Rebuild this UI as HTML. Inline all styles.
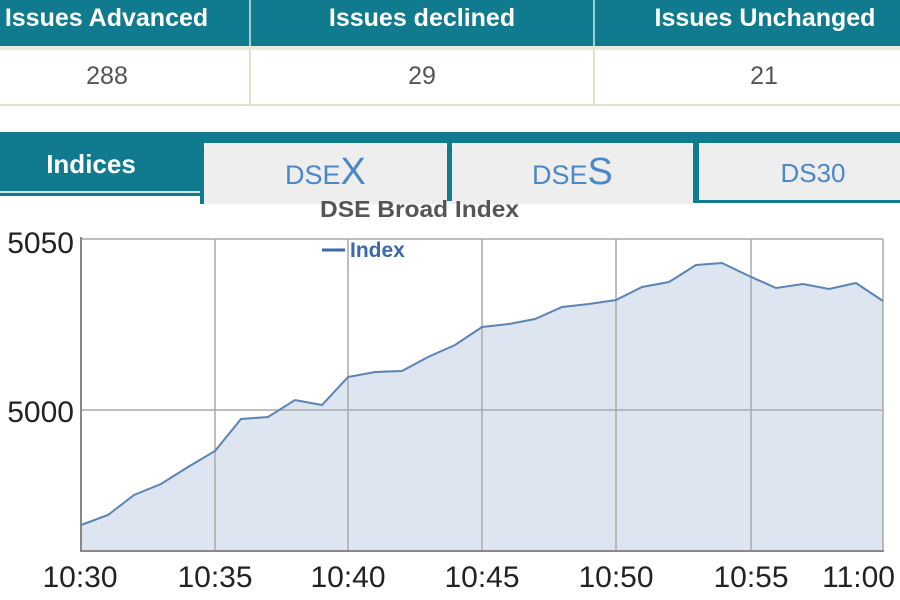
<!DOCTYPE html>
<html>
<head>
<meta charset="utf-8">
<style>
  html,body{margin:0;padding:0;background:#fff;}
  body{width:900px;height:600px;overflow:hidden;}
  svg{display:block;}
  text{font-family:"Liberation Sans", Arial, sans-serif;}
</style>
</head>
<body>
<svg width="900" height="600" viewBox="0 0 900 600" xmlns="http://www.w3.org/2000/svg">
  <!-- Header row -->
  <rect x="0" y="0" width="900" height="46" fill="#107a8e"/>
  <rect x="249" y="0" width="2" height="46" fill="#9fd0da"/>
  <rect x="593" y="0" width="2" height="46" fill="#9fd0da"/>
  <text x="106.5" y="26" font-size="25" font-weight="bold" fill="#fff" text-anchor="middle">Issues Advanced</text>
  <text x="422" y="26" font-size="25" font-weight="bold" fill="#fff" text-anchor="middle">Issues declined</text>
  <text x="765" y="26" font-size="25" font-weight="bold" fill="#fff" text-anchor="middle">Issues Unchanged</text>

  <!-- Value row -->
  <rect x="0" y="46" width="900" height="4" fill="#ece9dc"/>
  <rect x="0" y="104" width="900" height="2" fill="#e3dfcb"/>
  <rect x="249" y="48" width="2" height="58" fill="#e3dfcb"/>
  <rect x="593" y="48" width="2" height="58" fill="#e3dfcb"/>
  <text x="107" y="84" font-size="25" fill="#555" text-anchor="middle">288</text>
  <text x="422" y="84" font-size="25" fill="#555" text-anchor="middle">29</text>
  <text x="764" y="84" font-size="25" fill="#555" text-anchor="middle">21</text>

  <!-- Tabs -->
  <rect x="0" y="132" width="900" height="11" fill="#107a8e"/>
  <rect x="0" y="132" width="201" height="59" fill="#107a8e"/>
  <rect x="0" y="191" width="201" height="2" fill="#cfe4e8"/>
  <rect x="0" y="193" width="201" height="3" fill="#107a8e"/>
  <text x="91" y="173" font-size="26" font-weight="bold" fill="#fff" text-anchor="middle">Indices</text>

  <!-- DSEX tab -->
  <rect x="200" y="140" width="4" height="64" fill="#107a8e"/>
  <path d="M204 204 L204 150 Q204 143 212 143 L439 143 Q447 143 447 150 L447 204 Z" fill="#eeeeee"/>
  <!-- separator -->
  <rect x="447" y="140" width="5" height="61" fill="#107a8e"/>
  <!-- DSES tab -->
  <path d="M452 204 L452 150 Q452 143 460 143 L685 143 Q693 143 693 150 L693 204 Z" fill="#eeeeee"/>
  <!-- separator -->
  <rect x="693" y="140" width="6" height="63" fill="#107a8e"/>
  <!-- DS30 tab -->
  <path d="M699 200 L699 150 Q699 143 707 143 L900 143 L900 200 Z" fill="#eeeeee"/>
  <rect x="693" y="200" width="207" height="3" fill="#107a8e"/>

  <text x="285" y="184" font-size="27" fill="#4a88c8">DSE<tspan font-size="38">X</tspan></text>
  <text x="532" y="184" font-size="27" fill="#4a88c8">DSE<tspan font-size="38">S</tspan></text>
  <text x="813" y="182" font-size="26" fill="#4a88c8" text-anchor="middle">DS30</text>

  <!-- Chart title -->
  <text x="320" y="217" font-size="23" font-weight="bold" fill="#555" textLength="199" lengthAdjust="spacingAndGlyphs">DSE Broad Index</text>

  <!-- Plot area fill -->
  <path d="M81 525 L108 515 L134 495 L161 484 L188 467 L215 451 L241 419 L268 417 L295 400 L322 405 L348 377 L375 372 L402 371 L428 357 L455 345 L482 327 L509 324 L535 319 L562 307 L589 304 L616 300 L642 287 L669 282 L696 265 L722 263 L749 276 L776 288 L803 284 L829 289 L856 283 L883 301 L883 551 L81 551 Z" fill="#dde5f0"/>

  <!-- Grid -->
  <g stroke="#a9a9a9" stroke-width="1.5" fill="none">
    <line x1="81" y1="239" x2="883" y2="239"/>
    <line x1="81" y1="410" x2="883" y2="410"/>
    <line x1="215" y1="239" x2="215" y2="551"/>
    <line x1="348" y1="239" x2="348" y2="551"/>
    <line x1="482" y1="239" x2="482" y2="551"/>
    <line x1="616" y1="239" x2="616" y2="551"/>
    <line x1="751" y1="239" x2="751" y2="551"/>
    <line x1="883" y1="239" x2="883" y2="551"/>
  </g>
  <!-- Axes -->
  <line x1="81" y1="237" x2="81" y2="552" stroke="#888" stroke-width="2"/>
  <line x1="80" y1="551" x2="884" y2="551" stroke="#888" stroke-width="2"/>

  <!-- Series line -->
  <polyline points="81,525 108,515 134,495 161,484 188,467 215,451 241,419 268,417 295,400 322,405 348,377 375,372 402,371 428,357 455,345 482,327 509,324 535,319 562,307 589,304 616,300 642,287 669,282 696,265 722,263 749,276 776,288 803,284 829,289 856,283 883,301" fill="none" stroke="#5a84b4" stroke-width="2"/>

  <!-- Legend -->
  <line x1="322" y1="250" x2="345" y2="250" stroke="#3a6aaa" stroke-width="3"/>
  <text x="350" y="257" font-size="21" font-weight="bold" fill="#3a6aaa">Index</text>

  <!-- Y labels -->
  <text x="74" y="253" font-size="30" fill="#222" text-anchor="end">5050</text>
  <text x="74" y="422" font-size="30" fill="#222" text-anchor="end">5000</text>

  <!-- X labels -->
  <text x="80" y="587" font-size="30" fill="#222" text-anchor="middle">10:30</text>
  <text x="215" y="587" font-size="30" fill="#222" text-anchor="middle">10:35</text>
  <text x="348" y="587" font-size="30" fill="#222" text-anchor="middle">10:40</text>
  <text x="482" y="587" font-size="30" fill="#222" text-anchor="middle">10:45</text>
  <text x="616" y="587" font-size="30" fill="#222" text-anchor="middle">10:50</text>
  <text x="751" y="587" font-size="30" fill="#222" text-anchor="middle">10:55</text>
  <text x="895" y="587" font-size="30" fill="#222" text-anchor="end">11:00</text>
</svg>
</body>
</html>
